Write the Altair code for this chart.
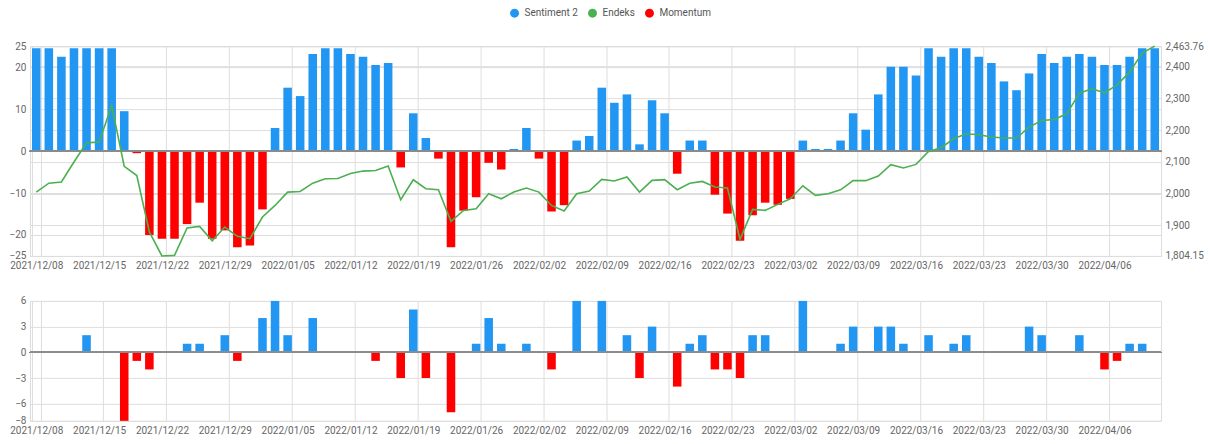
import altair as alt
import pandas as pd

# Trading-day categories (weekdays from 2021/12/08)
dates = [d.strftime("%Y/%m/%d") for d in pd.bdate_range("2021-12-08", periods=90)]

top_values = [
    24.5, 24.5, 22.5, 24.5, 24.5, 24.5, 24.5, 9.5, -0.5, -20.0,
    -20.9, -20.9, -17.4, -12.3, -20.9, -18.9, -22.9, -22.5, -13.9, 5.5,
    15.1, 13.1, 23.1, 24.5, 24.5, 23.1, 22.5, 20.5, 21.0, -3.9,
    9.0, 3.1, -1.8, -22.9, -14.2, -11.0, -2.8, -4.4, 0.5, 5.5,
    -1.8, -14.4, -12.9, 2.5, 3.6, 15.1, 11.5, 13.5, 1.6, 12.1,
    9.0, -5.4, 2.5, 2.5, -10.4, -14.9, -21.4, -15.3, -12.3, -12.8,
    -11.4, 2.5, 0.5, 0.5, 2.5, 9.0, 5.1, 13.5, 20.1, 20.1,
    18.0, 24.5, 22.5, 24.5, 24.5, 22.5, 21.0, 16.6, 14.5, 18.5,
    23.1, 21.0, 22.5, 23.1, 22.5, 20.5, 20.5, 22.5, 24.5, 24.5,
]

endeks = [
    2005, 2033, 2036.6, 2099.5, 2160, 2162, 2277, 2085.7, 2057, 1879.6,
    1804.15, 1806, 1892, 1897, 1852, 1895, 1866, 1858.5, 1926.7, 1963,
    2005, 2007, 2033, 2047, 2047.5, 2063.6, 2071, 2073, 2086.9, 1981,
    2043.8, 2015.6, 2012.4, 1912.9, 1947.4, 1952.8, 1999.9, 1984, 2005, 2017.8,
    2005, 1963, 1945.5, 2000, 2008.4, 2044.8, 2039.7, 2052.3, 2005, 2041.7,
    2044, 2012.4, 2033, 2038.5, 2020.9, 2017.8, 1856.4, 1950.6, 1947.4, 1966.3,
    1984, 2024.8, 1994.6, 2000, 2012, 2041, 2041, 2055.5, 2091, 2080.6,
    2092, 2132.7, 2144.4, 2172.6, 2188.3, 2185.2, 2177.9, 2174.8, 2174.8, 2209.4,
    2230, 2233.3, 2251, 2316, 2329.6, 2317, 2342.2, 2382, 2441.8, 2463.76,
]

bottom_values = [
    0, 0, 0, 0, 2, 0, 0, -8, -1, -2,
    0, 0, 1, 1, 0, 2, -1, 0, 4, 6,
    2, 0, 4, 0, 0, 0, 0, -1, 0, -3,
    5, -3, 0, -7, 0, 1, 4, 1, 0, 1,
    0, -2, 0, 6, 0, 6, 0, 2, -3, 3,
    0, -4, 1, 2, -2, -2, -3, 2, 2, 0,
    0, 6, 0, 0, 1, 3, 0, 3, 3, 1,
    0, 2, 0, 1, 2, 0, 0, 0, 0, 3,
    2, 0, 0, 2, 0, -2, -1, 1, 1, 0,
]

series_names = ["Sentiment 2", "Endeks", "Momentum"]
series_colors = ["#2196F3", "#4CAF50", "#FF0000"]
left_ticks = [-25, -20, -10, 0, 10, 20, 25]
right_ticks = [1804.15, 1900, 2000, 2100, 2200, 2300, 2400, 2463.76]
bottom_ticks = [-8, -6, -3, 0, 3, 6]

df = pd.DataFrame({
    "date": dates,
    "top": top_values,
    "endeks": endeks,
    "bottom": bottom_values,
})
df["series"] = ["Sentiment 2" if v >= 0 else "Momentum" for v in top_values]

FONT = "Roboto"
LABEL_COLOR = "#666666"
GRID = "#dedede"
W = 1132


def y_axis(values, **kw):
    return alt.Axis(values=values, tickCount=30, grid=True, gridColor=GRID,
                    domain=False, ticks=False, tickSize=0, labelPadding=4,
                    labelFontSize=10, labelColor=LABEL_COLOR, labelFont=FONT,
                    labelOverlap=False, **kw)


x_enc = alt.X(
    "date:O",
    title=None,
    scale=alt.Scale(paddingInner=0.32, paddingOuter=0.16),
    axis=alt.Axis(
        values=dates[::5], labelAngle=0, tickBand="extent", grid=True,
        gridColor=GRID, domain=False, ticks=False, tickSize=0,
        labelPadding=5, labelFontSize=10, labelColor=LABEL_COLOR, labelFont=FONT,
        labelOverlap=False,
    ),
)

bars_top = alt.Chart(df).mark_bar().encode(
    x=x_enc,
    y=alt.Y(
        "top:Q", title=None,
        scale=alt.Scale(domain=[-25, 25], nice=False, zero=False),
        axis=y_axis(left_ticks, format="d"),
    ),
    color=alt.Color(
        "series:N",
        scale=alt.Scale(domain=series_names, range=series_colors),
        legend=alt.Legend(
            title=None, orient="none", direction="horizontal", columns=3,
            legendX=480, legendY=-38, symbolType="circle", symbolSize=80,
            symbolStrokeWidth=0, labelFontSize=10, labelColor="#555555",
            labelFont=FONT, columnPadding=9, symbolOffset=0, labelOffset=5,
        ),
    ),
)

zero_top = alt.Chart(df).mark_rule(color="#8c8c8c", strokeWidth=1).encode(
    y=alt.datum(0)
)

line = alt.Chart(df).mark_line(color="#4CAF50", strokeWidth=1.6).encode(
    x=alt.X("date:O"),
    y=alt.Y(
        "endeks:Q", title=None,
        scale=alt.Scale(domain=[1804.15, 2463.76], nice=False, zero=False),
        axis=y_axis(
            right_ticks, orient="right",
            labelExpr="(datum.value == 1804.15 || datum.value == 2463.76) ? format(datum.value, ',.2f') : format(datum.value, ',')",
        ),
    ),
)

top = alt.layer(alt.layer(bars_top, zero_top), line).resolve_scale(
    y="independent"
).properties(width=W, height=210)

bars_bottom = alt.Chart(df).mark_bar().encode(
    x=x_enc,
    y=alt.Y(
        "bottom:Q", title=None,
        scale=alt.Scale(domain=[-8, 6], nice=False, zero=False),
        axis=y_axis(bottom_ticks, format="d"),
    ),
    color=alt.condition("datum.bottom >= 0", alt.value("#2196F3"), alt.value("#FF0000")),
)

zero_bottom = alt.Chart(df).mark_rule(color="#8c8c8c", strokeWidth=1).encode(
    y=alt.datum(0)
)

bottom = alt.layer(bars_bottom, zero_bottom).properties(width=W, height=120)

chart = alt.vconcat(top, bottom, spacing=23).properties(
    padding={"left": 0, "top": 0, "right": 0, "bottom": 0}
).configure_view(stroke="#d9d9d9").configure(background="white")

chart.save("out.html", embed_options={"renderer": "svg", "actions": False})
